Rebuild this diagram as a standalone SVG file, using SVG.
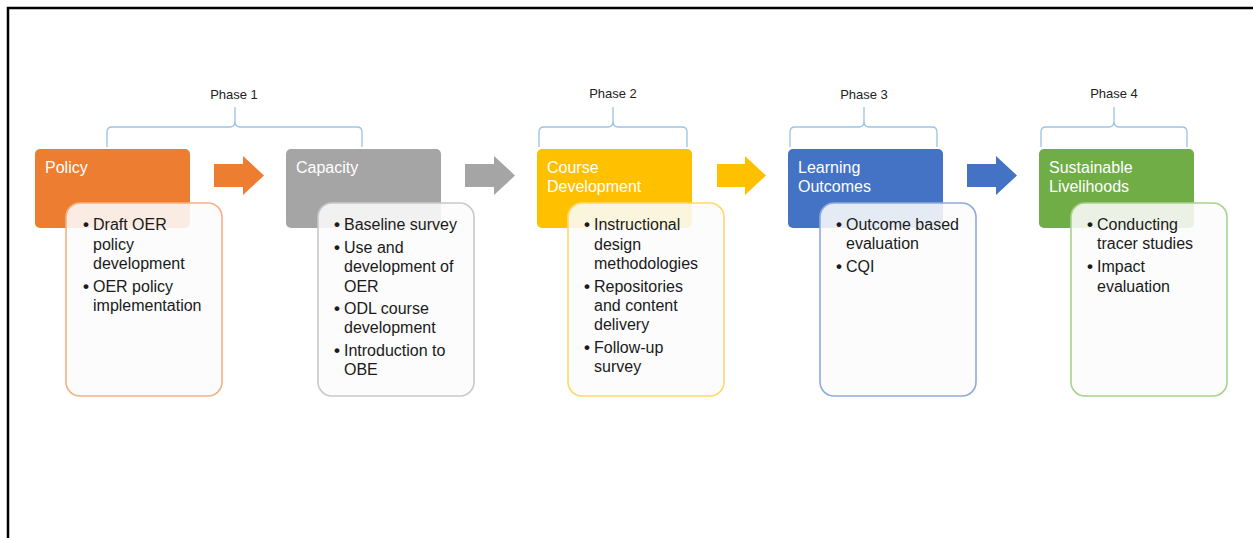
<svg xmlns="http://www.w3.org/2000/svg" width="1253" height="538" viewBox="0 0 1253 538">
<style>
.top{stroke:none}
.det{fill:#fcfcfc;fill-opacity:0.88;stroke-width:1.6}
.title{font-family:"Liberation Sans",Arial,sans-serif;font-size:16px;fill:#ffffff}
.body{font-family:"Liberation Sans",Arial,sans-serif;font-size:16px;fill:#1a1a1a}
.b{font-weight:bold;font-size:17px}
.phase{font-family:"Liberation Sans",Arial,sans-serif;font-size:13px;fill:#222222;text-anchor:middle}
.brace{fill:none;stroke:#9dc3e6;stroke-width:1.3}
</style>
<rect x="0" y="0" width="1253" height="538" fill="#ffffff"/>
<path d="M8,538 V8 H1253" fill="none" stroke="#000000" stroke-width="2.5"/>

<g id="phases">
<text class="phase" x="234" y="99">Phase 1</text>
<path class="brace" d="M107,147 V132 Q107,127 112,127 H230 Q235,127 235,121 V107 M235,121 Q235,127 240,127 H357 Q362,127 362,132 V147"/>
<text class="phase" x="613" y="98">Phase 2</text>
<path class="brace" d="M539,147 V132 Q539,127 544,127 H608 Q613,127 613,121 V107 M613,121 Q613,127 618,127 H682 Q687,127 687,132 V147"/>
<text class="phase" x="864" y="99">Phase 3</text>
<path class="brace" d="M790,147 V132 Q790,127 795,127 H859 Q864,127 864,121 V107 M864,121 Q864,127 869,127 H932 Q937,127 937,132 V147"/>
<text class="phase" x="1114" y="98">Phase 4</text>
<path class="brace" d="M1041,147 V132 Q1041,127 1046,127 H1109 Q1114,127 1114,121 V107 M1114,121 Q1114,127 1119,127 H1182 Q1187,127 1187,132 V147"/>
</g>

<g id="connectors">
<path d="M214,164 H243 V156 L264,175.5 L243,195 V187 H214 Z" fill="#ED7D31"/>
<path d="M465,164 H494 V156 L515,175.5 L494,195 V187 H465 Z" fill="#A5A5A5"/>
<path d="M717,164 H745 V156 L766,175.5 L745,195 V187 H717 Z" fill="#FFC000"/>
<path d="M967,164 H996 V156 L1017,175.5 L996,195 V187 H967 Z" fill="#4472C4"/>
</g>

<g id="node-policy">
<rect class="top" x="35" y="149" width="155" height="79" rx="5" fill="#ED7D31"/>
<text class="title" x="45" y="173">Policy</text>
<rect class="det" x="66" y="203" width="156" height="193" rx="14" stroke="#F4B183"/>
<g class="body">
<text class="b" x="83" y="230">•</text><text x="93" y="230">Draft OER</text>
<text x="93" y="250">policy</text>
<text x="93" y="269">development</text>
<text class="b" x="83" y="292">•</text><text x="93" y="292">OER policy</text>
<text x="93" y="311">implementation</text>
</g>
</g>

<g id="node-capacity">
<rect class="top" x="286" y="149" width="155" height="79" rx="5" fill="#A5A5A5"/>
<text class="title" x="296" y="173">Capacity</text>
<rect class="det" x="318" y="203" width="156" height="193" rx="14" stroke="#C9C9C9"/>
<g class="body">
<text class="b" x="334" y="230">•</text><text x="344" y="230">Baseline survey</text>
<text class="b" x="334" y="253">•</text><text x="344" y="253">Use and</text>
<text x="344" y="272">development of</text>
<text x="344" y="292">OER</text>
<text class="b" x="334" y="314">•</text><text x="344" y="314">ODL course</text>
<text x="344" y="333">development</text>
<text class="b" x="334" y="356">•</text><text x="344" y="356">Introduction to</text>
<text x="344" y="375">OBE</text>
</g>
</g>

<g id="node-course">
<rect class="top" x="537" y="149" width="155" height="79" rx="5" fill="#FFC000"/>
<text class="title" x="547" y="173">Course</text>
<text class="title" x="547" y="192">Development</text>
<rect class="det" x="568" y="203" width="156" height="193" rx="14" stroke="#FFD966"/>
<g class="body">
<text class="b" x="584" y="230">•</text><text x="594" y="230">Instructional</text>
<text x="594" y="250">design</text>
<text x="594" y="269">methodologies</text>
<text class="b" x="584" y="292">•</text><text x="594" y="292">Repositories</text>
<text x="594" y="311">and content</text>
<text x="594" y="330">delivery</text>
<text class="b" x="584" y="353">•</text><text x="594" y="353">Follow-up</text>
<text x="594" y="372">survey</text>
</g>
</g>

<g id="node-learning">
<rect class="top" x="788" y="149" width="155" height="79" rx="5" fill="#4472C4"/>
<text class="title" x="798" y="173">Learning</text>
<text class="title" x="798" y="192">Outcomes</text>
<rect class="det" x="820" y="203" width="156" height="193" rx="14" stroke="#8FAADC"/>
<g class="body">
<text class="b" x="836" y="230">•</text><text x="846" y="230">Outcome based</text>
<text x="846" y="249">evaluation</text>
<text class="b" x="836" y="272">•</text><text x="846" y="272">CQI</text>
</g>
</g>

<g id="node-sustainable">
<rect class="top" x="1039" y="149" width="155" height="79" rx="5" fill="#70AD47"/>
<text class="title" x="1049" y="173">Sustainable</text>
<text class="title" x="1049" y="192">Livelihoods</text>
<rect class="det" x="1071" y="203" width="156" height="193" rx="14" stroke="#A9D18E"/>
<g class="body">
<text class="b" x="1087" y="230">•</text><text x="1097" y="230">Conducting</text>
<text x="1097" y="249">tracer studies</text>
<text class="b" x="1087" y="272">•</text><text x="1097" y="272">Impact</text>
<text x="1097" y="292">evaluation</text>
</g>
</g>
</svg>
